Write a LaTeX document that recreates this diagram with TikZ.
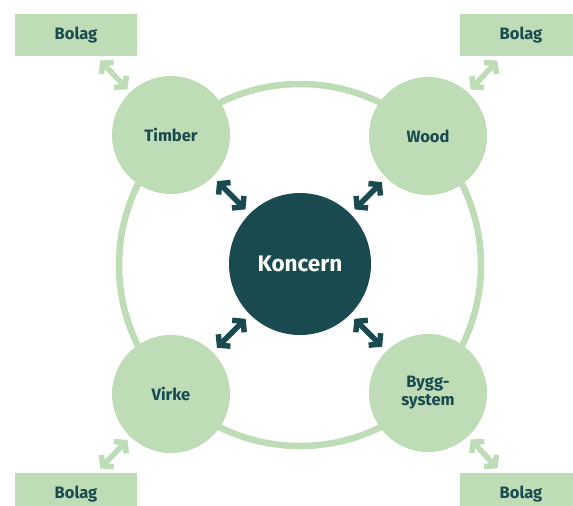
\documentclass[tikz,border=0pt]{standalone}
\usepackage{fontspec}
\setmainfont{Fira Sans}
\usetikzlibrary{arrows.meta}
\definecolor{darkteal}{HTML}{184A50}
\definecolor{palegreen}{HTML}{BEDCB5}
\tikzset{
    hub/.style={circle, fill=darkteal, text=white, minimum size=142pt, inner sep=0, font=\bfseries\fontsize{22.5}{26}\selectfont},
    member/.style={circle, fill=palegreen, text=darkteal, minimum size=118pt, inner sep=0, align=center, font=\bfseries\fontsize{16.5}{18}\selectfont},
    subsid/.style={rectangle, fill=palegreen, text=darkteal, minimum width=122pt, minimum height=42pt, inner sep=0, font=\bfseries\fontsize{16.5}{18}\selectfont},
    ring/.style={draw=palegreen, line width=6.5pt},
    linkdark/.style={draw=darkteal, line width=5.5pt, {Straight Barb[length=7pt,width=17pt]}-{Straight Barb[length=7pt,width=17pt]}, shorten <=6pt, shorten >=6pt},
    linklight/.style={draw=palegreen, line width=5.5pt, {Straight Barb[length=7pt,width=17pt]}-{Straight Barb[length=7pt,width=17pt]}, shorten <=6pt, shorten >=4pt}
}

\begin{document}
\begin{tikzpicture}[x=1pt, y=-1pt]
    \clip (0,0) rectangle (573,506);
    % outer ring
    \draw[ring] (300,265) circle (181);

    \node[hub] (koncern) at (300,264) {Koncern};

    \node[member] (timber) at (171,135) {Timber};
    \node[member] (wood) at (428,136) {Wood};
    \node[member] (virke) at (171,394) {Virke};
    \node[member] (bygg) at (428,393) {Bygg-\\system};

    \node[subsid] (bolagTL) at (76,35) {Bolag};
    \node[subsid] (bolagTR) at (521,35) {Bolag};
    \node[subsid] (bolagBL) at (76,494) {Bolag};
    \node[subsid] (bolagBR) at (521,494) {Bolag};

    % koncern links
    \draw[linkdark] (timber) -- (koncern);
    \draw[linkdark] (wood) -- (koncern);
    \draw[linkdark] (virke) -- (koncern);
    \draw[linkdark] (bygg) -- (koncern);

    % bolag links
    \draw[linklight] (bolagTL) -- (timber);
    \draw[linklight] (bolagTR) -- (wood);
    \draw[linklight] (bolagBL) -- (virke);
    \draw[linklight] (bolagBR) -- (bygg);
\end{tikzpicture}
\end{document}
